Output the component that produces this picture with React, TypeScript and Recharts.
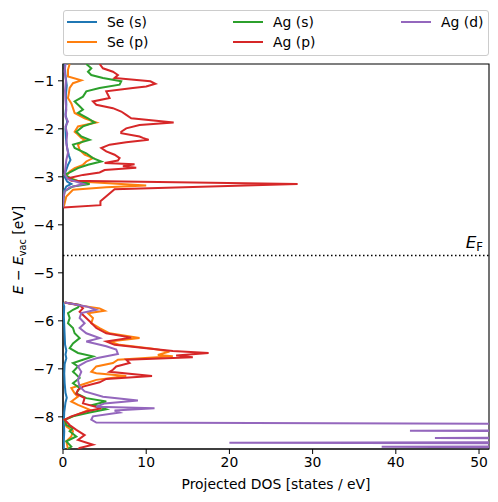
import React from 'react';
import {
  ScatterChart,
  Scatter,
  XAxis,
  YAxis,
  ReferenceLine,
  ReferenceArea,
} from 'recharts';

// [energy (eV), projected DOS (states/eV)]
const seS_upper = [
  [-0.65, 0.2], [-0.9, 0.3], [-1.1, 0.45], [-1.3, 0.35], [-1.5, 0.4], [-1.7, 0.3], [-1.85, 0.5],
  [-2.0, 0.3], [-2.2, 0.35], [-2.4, 0.5], [-2.55, 0.7], [-2.65, 0.9], [-2.75, 0.6], [-2.9, 0.3],
  [-3.0, 0.2], [-3.1, 0.5], [-3.15, 1.0], [-3.2, 0.4], [-3.3, 0.1], [-3.5, 0.02], [-3.65, 0],
];
const seS_lower = [
  [-5.62, 0], [-5.7, 0.15], [-5.9, 0.1], [-6.1, 0.15], [-6.3, 0.2], [-6.5, 0.25], [-6.62, 0.4],
  [-6.7, 0.3], [-6.78, 0.4], [-6.9, 0.2], [-7.1, 0.15], [-7.3, 0.2], [-7.5, 0.3], [-7.6, 0.45],
  [-7.7, 0.3], [-7.9, 0.15], [-8.1, 0.1], [-8.3, 0.15], [-8.5, 0.1], [-8.67, 0.1],
];

const seP_upper = [
  [-0.65, 0.8], [-0.77, 0.6], [-0.91, 0.6], [-0.99, 2.2], [-1.05, 1.2], [-1.15, 0.8], [-1.26, 0.7],
  [-1.36, 0.6], [-1.47, 1.0], [-1.57, 1.2], [-1.67, 1.4], [-1.78, 2.6], [-1.87, 4.0], [-1.95, 1.8],
  [-2.06, 1.4], [-2.09, 1.6], [-2.19, 2.2], [-2.23, 2.6], [-2.33, 1.8], [-2.44, 2.0], [-2.54, 2.6],
  [-2.61, 3.6], [-2.68, 2.8], [-2.75, 2.4], [-2.82, 1.4], [-2.89, 0.8], [-2.99, 0.4], [-3.1, 2.0],
  [-3.18, 10.0], [-3.22, 5.2], [-3.27, 1.2], [-3.41, 0.4], [-3.62, 0.1],
];
const seP_lower = [
  [-5.62, 0.2], [-5.68, 2.0], [-5.74, 4.4], [-5.79, 5.0], [-5.84, 3.0], [-5.94, 3.6], [-6.05, 3.4],
  [-6.15, 4.4], [-6.26, 5.6], [-6.36, 9.2], [-6.43, 5.6], [-6.5, 6.8], [-6.58, 10.8], [-6.64, 12.8],
  [-6.71, 11.4], [-6.74, 13.2], [-6.81, 6.6], [-6.88, 6.0], [-6.95, 4.0], [-7.06, 3.4], [-7.09, 4.0],
  [-7.15, 7.6], [-7.23, 4.0], [-7.3, 2.8], [-7.4, 1.0], [-7.51, 1.4], [-7.58, 1.8], [-7.68, 1.0],
  [-7.75, 1.8], [-7.85, 3.2], [-7.96, 1.6], [-8.06, 0.2], [-8.2, 0.4], [-8.3, 1.2], [-8.41, 1.0],
  [-8.51, 0.4], [-8.67, 0.6],
];

const agS_upper = [
  [-0.65, 2.8], [-0.74, 3.4], [-0.81, 3.0], [-0.88, 3.4], [-0.94, 4.8], [-1.01, 7.0], [-1.08, 6.8],
  [-1.15, 4.4], [-1.22, 2.8], [-1.33, 2.4], [-1.43, 1.4], [-1.53, 2.0], [-1.6, 2.4], [-1.67, 1.8],
  [-1.78, 3.0], [-1.87, 3.8], [-1.95, 2.4], [-2.06, 1.6], [-2.09, 1.8], [-2.16, 2.2], [-2.23, 3.2],
  [-2.33, 1.2], [-2.4, 1.4], [-2.51, 2.8], [-2.61, 3.6], [-2.68, 4.6], [-2.75, 3.0], [-2.82, 1.8],
  [-2.89, 1.0], [-2.96, 0.2], [-3.06, 1.2], [-3.15, 3.2], [-3.2, 1.2], [-3.3, 0.2], [-3.45, 0.05],
  [-3.62, 0],
];
const agS_lower = [
  [-5.62, 0.2], [-5.67, 2.0], [-5.72, 1.8], [-5.77, 1.2], [-5.84, 0.6], [-5.94, 0.8], [-6.05, 0.6],
  [-6.15, 1.2], [-6.26, 1.4], [-6.36, 2.0], [-6.47, 1.2], [-6.57, 0.8], [-6.67, 1.8], [-6.74, 3.6],
  [-6.81, 2.4], [-6.88, 1.2], [-6.95, 1.8], [-7.06, 1.2], [-7.09, 1.4], [-7.19, 2.0], [-7.3, 1.2],
  [-7.4, 2.0], [-7.51, 1.6], [-7.61, 2.8], [-7.68, 5.2], [-7.75, 3.6], [-7.84, 5.2], [-7.91, 3.2],
  [-7.99, 1.2], [-8.06, 0.2], [-8.17, 0.4], [-8.24, 1.2], [-8.3, 0.8], [-8.41, 1.6], [-8.51, 0.4],
  [-8.62, 1.0], [-8.67, 0.6],
];

const agP_upper = [
  [-0.65, 4.4], [-0.74, 4.8], [-0.81, 6.0], [-0.88, 6.6], [-0.94, 6.2], [-1.01, 10.5], [-1.06, 11.1],
  [-1.12, 10.0], [-1.15, 8.4], [-1.22, 5.2], [-1.29, 5.4], [-1.36, 5.6], [-1.43, 3.6], [-1.5, 4.0],
  [-1.57, 6.0], [-1.64, 7.0], [-1.71, 7.6], [-1.78, 8.2], [-1.87, 13.3], [-1.92, 9.2], [-1.99, 7.6],
  [-2.06, 7.0], [-2.09, 7.0], [-2.16, 9.2], [-2.19, 9.6], [-2.23, 10.3], [-2.28, 7.6], [-2.33, 5.6],
  [-2.4, 4.6], [-2.47, 5.2], [-2.54, 6.2], [-2.61, 6.8], [-2.66, 6.6], [-2.71, 5.0], [-2.74, 8.6],
  [-2.78, 7.2], [-2.81, 8.8], [-2.86, 5.0], [-2.91, 4.4], [-2.96, 2.4], [-3.03, 0.6], [-3.08, 1.0],
  [-3.15, 28.2], [-3.26, 6.2], [-3.51, 4.5], [-3.59, 4.5], [-3.64, 0.05],
];
const agP_lower = [
  [-5.62, 0.2], [-5.67, 2.0], [-5.74, 2.4], [-5.81, 2.0], [-5.91, 2.6], [-6.01, 3.2], [-6.08, 3.6],
  [-6.15, 4.0], [-6.26, 5.2], [-6.35, 8.2], [-6.43, 5.2], [-6.5, 6.2], [-6.57, 10.0], [-6.63, 13.2],
  [-6.67, 17.5], [-6.72, 13.6], [-6.76, 15.6], [-6.81, 7.6], [-6.88, 8.0], [-6.95, 6.4], [-7.02, 6.0],
  [-7.06, 5.6], [-7.15, 10.7], [-7.21, 5.2], [-7.28, 4.4], [-7.37, 2.4], [-7.44, 1.8], [-7.52, 1.6],
  [-7.61, 2.6], [-7.72, 2.4], [-7.82, 4.6], [-7.89, 2.8], [-7.99, 1.0], [-8.06, 0.2], [-8.17, 0.8],
  [-8.27, 1.6], [-8.38, 2.6], [-8.48, 1.8], [-8.58, 3.6], [-8.65, 2.0], [-8.67, 1.8],
];

const agD_upper = [
  [-0.65, 0.3], [-0.8, 0.2], [-1.0, 0.35], [-1.2, 0.25], [-1.4, 0.3], [-1.6, 0.4], [-1.75, 0.3],
  [-1.85, 0.6], [-1.95, 0.3], [-2.1, 0.5], [-2.3, 0.4], [-2.5, 0.6], [-2.65, 0.4], [-2.8, 0.3],
  [-2.95, 0.2], [-3.05, 0.6], [-3.15, 2.5], [-3.22, 0.8], [-3.3, 0.2], [-3.45, 0.05], [-3.62, 0],
];
const agD_lower = [
  [-5.62, 0.2], [-5.7, 2.8], [-5.77, 4.0], [-5.84, 2.2], [-5.94, 2.0], [-6.05, 2.6], [-6.15, 2.0],
  [-6.26, 2.8], [-6.36, 4.4], [-6.43, 2.8], [-6.53, 5.2], [-6.6, 6.4], [-6.69, 6.6], [-6.78, 4.0],
  [-6.85, 2.8], [-6.95, 1.8], [-7.06, 2.2], [-7.14, 2.0], [-7.23, 1.8], [-7.37, 2.0], [-7.47, 2.6],
  [-7.58, 4.8], [-7.66, 9.0], [-7.72, 5.0], [-7.79, 4.0], [-7.82, 11.0], [-7.87, 6.2], [-7.91, 6.8],
  [-7.99, 3.6], [-8.06, 3.4], [-8.12, 4.0], [-8.15, 70], [-8.27, 70], [-8.29, 41.7], [-8.31, 70],
  [-8.42, 70], [-8.44, 44.7], [-8.46, 70], [-8.52, 70], [-8.54, 20.0], [-8.56, 70], [-8.61, 70],
  [-8.625, 38.3], [-8.64, 70], [-8.7, 70],
];

const E_FERMI = -4.64;
const xTicks = [0, 10, 20, 30, 40, 50];
const yTicks = [-8, -7, -6, -5, -4, -3, -2, -1];

const series = [
  { name: 'Se (s)', color: '#1f77b4', upper: seS_upper, lower: seS_lower },
  { name: 'Se (p)', color: '#ff7f0e', upper: seP_upper, lower: seP_lower },
  { name: 'Ag (s)', color: '#2ca02c', upper: agS_upper, lower: agS_lower },
  { name: 'Ag (p)', color: '#d62728', upper: agP_upper, lower: agP_lower },
  { name: 'Ag (d)', color: '#9467bd', upper: agD_upper, lower: agD_lower },
];

const FONT = '"DejaVu Sans", sans-serif';
const toPoints = (rows: number[][]) => rows.map(([e, d]) => ({ x: d, y: e }));
const minus = (v: number) => (v < 0 ? `\u2212${Math.abs(v)}` : `${v}`);
const noDot = () => <g />;

const FermiLabel = (props: any) => {
  const vb = props.viewBox || { x: 63, y: 256, width: 426 };
  const right = vb.x + vb.width;
  return (
    <text x={right - 6} y={vb.y - 8} textAnchor="end" fontFamily={FONT} fill="#000">
      <tspan fontStyle="italic" fontSize={16.7}>E</tspan>
      <tspan fontSize={11.7} dy={3}>F</tspan>
    </text>
  );
};

const XLabel = () => (
  <text x={276} y={489} textAnchor="middle" fontFamily={FONT} fontSize={13.9} fill="#000">
    Projected DOS [states / eV]
  </text>
);

const YLabel = () => (
  <text
    x={23}
    y={250}
    transform="rotate(-90, 23, 250)"
    textAnchor="middle"
    fontFamily={FONT}
    fontSize={13.9}
    fill="#000"
  >
    <tspan fontStyle="italic">E</tspan>
    <tspan> {'\u2212'} </tspan>
    <tspan fontStyle="italic">E</tspan>
    <tspan fontSize={9.7} dy={3}>vac</tspan>
    <tspan dy={-3}> [eV]</tspan>
  </text>
);

const legendCols = [4, 170, 338];

const PdosLegend = () => (
  <div
    style={{
      position: 'absolute',
      left: 63,
      top: 10,
      width: 426,
      height: 46,
      boxSizing: 'border-box',
      border: '1px solid #cccccc',
      borderRadius: 3,
      background: 'rgba(255,255,255,0.8)',
      fontFamily: FONT,
      fontSize: 13.9,
    }}
  >
    {series.map((s, i) => {
      const col = Math.floor(i / 2);
      const row = i % 2;
      return (
        <div
          key={s.name}
          style={{
            position: 'absolute',
            left: legendCols[col] - 1,
            top: 12 + row * 20 - 1 - 9,
            height: 18,
            display: 'flex',
            alignItems: 'center',
            whiteSpace: 'nowrap',
          }}
        >
          <span style={{ display: 'inline-block', width: 30, height: 2, background: s.color }} />
          <span style={{ marginLeft: 10, color: '#000' }}>{s.name}</span>
        </div>
      );
    })}
  </div>
);

export default function App() {
  return (
    <div style={{ position: 'absolute', left: 0, top: 0, width: 498, height: 502, background: '#fff' }}>
      <ScatterChart width={498} height={502} margin={{ top: 64, right: 9, left: 0, bottom: 0 }}>
        <XAxis
          type="number"
          dataKey="x"
          domain={[0, 51.2]}
          ticks={xTicks}
          allowDataOverflow
          height={53}
          tickSize={5}
          tickMargin={3}
          stroke="#000"
          tick={{ fill: '#000', fontSize: 13.9, fontFamily: FONT }}
          label={<XLabel />}
        />
        <YAxis
          type="number"
          dataKey="y"
          domain={[-8.67, -0.65]}
          ticks={yTicks}
          allowDataOverflow
          width={63}
          tickSize={5}
          tickMargin={4}
          stroke="#000"
          tickFormatter={minus}
          tick={{ fill: '#000', fontSize: 13.9, fontFamily: FONT }}
          label={<YLabel />}
        />
        {series.map((s) => (
          <Scatter
            key={s.name + '-up'}
            name={s.name}
            data={toPoints(s.upper)}
            line={{ stroke: s.color, strokeWidth: 2 }}
            lineType="joint"
            shape={noDot}
            isAnimationActive={false}
          />
        ))}
        {series.map((s) => (
          <Scatter
            key={s.name + '-low'}
            name={s.name + ' '}
            data={toPoints(s.lower)}
            line={{ stroke: s.color, strokeWidth: 2 }}
            lineType="joint"
            shape={noDot}
            isAnimationActive={false}
          />
        ))}
        <ReferenceLine
          y={E_FERMI}
          stroke="#000"
          strokeWidth={1.5}
          strokeDasharray="1.5 2.5"
          label={<FermiLabel />}
        />
        <ReferenceArea x1={0} x2={51.2} y1={-8.67} y2={-0.65} fill="none" stroke="#000" strokeWidth={1.1} />
      </ScatterChart>
      <PdosLegend />
    </div>
  );
}
